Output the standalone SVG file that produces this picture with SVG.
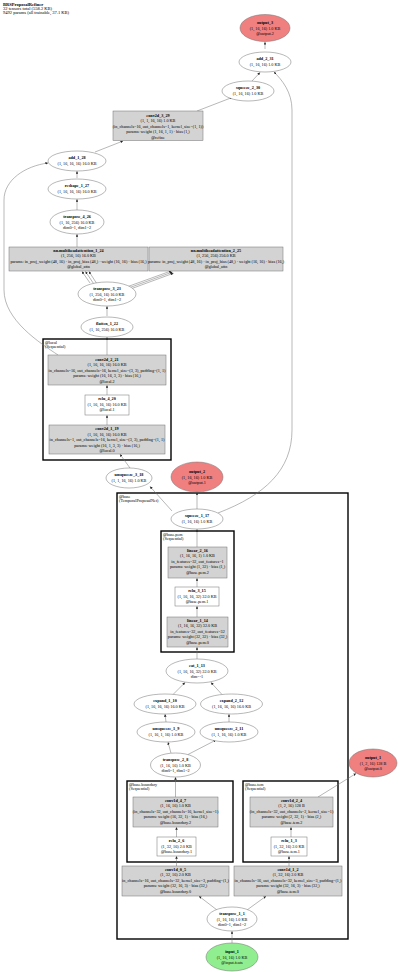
<svg xmlns="http://www.w3.org/2000/svg" width="400" height="972" viewBox="0 0 400 972">
<style>
text{font-family:"Liberation Serif","Times New Roman",serif;font-size:4.2px;text-anchor:middle;fill:#000}
.b{font-weight:bold}
.h{font-size:4.5px;text-anchor:start}
.cl text,.lbl{text-anchor:start;font-size:4.2px}
.box{fill:#d3d3d3;stroke:#707070;stroke-width:0.5}
.wbox{fill:#fff;stroke:#707070;stroke-width:0.5}
.ell{fill:#fff;stroke:#707070;stroke-width:0.5}
.red{fill:#f08080;stroke:#707070;stroke-width:0.5}
.grn{fill:#90ee90;stroke:#707070;stroke-width:0.5}
.clr{fill:none;stroke:#000;stroke-width:1.4}
#edges path{fill:none;stroke:#707070;stroke-width:0.5;marker-end:url(#ah)}
</style>
<defs>
<marker id="ah" viewBox="0 0 10 10" refX="10" refY="5" markerUnits="userSpaceOnUse" markerWidth="2.6" markerHeight="2.6" orient="auto">
<path d="M0,0 L10,5 L0,10 z" fill="#222"/>
</marker>
</defs>
<rect width="400" height="972" fill="#fff"/>
<g id="header">
<text class="h b" x="3" y="5.5">BRSProposalRefiner</text>
<text class="h" x="3" y="9.8">32 tensors total (558.2 KB)</text>
<text class="h" x="3" y="14.1">9492 params (all trainable, 37.1 KB)</text>
</g>

<g id="clusters">
<g id="cl_local" class="cl"><rect class="clr" x="43" y="339" width="128" height="121"/><text x="45" y="343.5">@local</text><text x="45" y="347.5">(Sequential)</text></g>
<g id="cl_base" class="cl"><rect class="clr" x="117" y="493" width="231" height="446"/><text x="119" y="497.5">@base</text><text x="119" y="501.5">(TemporalProposalNet)</text></g>
<g id="cl_pem" class="cl"><rect class="clr" x="161" y="531" width="73" height="121"/><text x="163" y="535.5">@base.pem</text><text x="163" y="539.5">(Sequential)</text></g>
<g id="cl_boundary" class="cl"><rect class="clr" x="127" y="781" width="106" height="81"/><text x="129" y="785.5">@base.boundary</text><text x="129" y="789.5">(Sequential)</text></g>
<g id="cl_tem" class="cl"><rect class="clr" x="243" y="781" width="95" height="81"/><text x="245" y="785.5">@base.tem</text><text x="245" y="789.5">(Sequential)</text></g>
</g>

<g id="edges">
<path d="M265,49 L265,42"/>
<path d="M252,81 L260,72.5"/>
<path d="M197,111 L232,97.5"/>
<path d="M95,152 L123,141"/>
<path d="M77,178 L77,171.2"/>
<path d="M77,210 L77,199.2"/>
<path d="M77,247 L77,234.2"/>
<path d="M90,283 L82,271.5"/>
<path d="M93.5,283.5 L85.5,271.5"/>
<path d="M97,284 L89,271.5"/>
<path d="M128,286.5 L171.5,270.8"/>
<path d="M128.6,288 L172.5,272"/>
<path d="M129.2,289.5 L173.5,273.2"/>
<path d="M107,316 L107,306.2"/>
<path d="M107,355 L107,337.2"/>
<path d="M107,395 L107,385.2"/>
<path d="M107,425 L107,415.2"/>
<path d="M130,468 L120,454.3"/>
<path d="M58,355 C40,343 4,320 4,290 L4,200 C4,180 25,166 48,163"/>
<path d="M172,511 L150,486.5"/>
<path d="M197,509 L197,492.2"/>
<path d="M218,513 C265,495 292,470 292,430 L292,110 C292,92 282,80 274,72"/>
<path d="M197,547 L197,529.2"/>
<path d="M197,587 L197,578.2"/>
<path d="M197,617 L197,606.2"/>
<path d="M197,659 L197,647.2"/>
<path d="M173,694.5 L185,682.5"/>
<path d="M222,694.5 L211,682.5"/>
<path d="M166,722 L165,714.2"/>
<path d="M229,722 L229,714.2"/>
<path d="M171,753.2 L168,742.2"/>
<path d="M188,754.5 L216,740"/>
<path d="M175.5,797 L175.5,777.2"/>
<path d="M176.5,837 L176.5,827.2"/>
<path d="M176.5,866 L176.5,856.2"/>
<path d="M289,866 L289,856.2"/>
<path d="M291,837 L291,827.2"/>
<path d="M318,797 L356,773.5"/>
<path d="M217,910 L199,896.2"/>
<path d="M247,910 L266,896.2"/>
<path d="M232,943 L232,931.2"/>
</g>

<g id="output_3"><ellipse class="red" cx="265" cy="28" rx="25" ry="13.5"/><text class="b" x="265" y="24">output_3</text><text x="265" y="29.6">(1, 16, 16) 1.0 KB</text><text x="265" y="35.2">@output.2</text></g>
<g id="add_2_31"><ellipse class="ell" cx="265" cy="62" rx="26" ry="10"/><text class="b" x="265" y="60">add_2_31</text><text x="265" y="65.6">(1, 16, 16) 1.0 KB</text></g>
<g id="squeeze_2_30"><ellipse class="ell" cx="248" cy="91" rx="26" ry="10"/><text class="b" x="248" y="89">squeeze_2_30</text><text x="248" y="94.6">(1, 16, 16) 1.0 KB</text></g>
<g id="conv2d_3_29"><rect class="box" x="113" y="111" width="90" height="29.5"/><text class="b" x="158" y="116.5">conv2d_3_29</text><text x="158" y="122">(1, 1, 16, 16) 1.0 KB</text><text x="158" y="127.5">(in_channels=16, out_channels=1, kernel_size=(1, 1))</text><text x="158" y="133">params: weight (1, 16, 1, 1) · bias (1,)</text><text x="158" y="138.5">@refine</text></g>
<g id="add_1_28"><ellipse class="ell" cx="77" cy="161" rx="29" ry="10"/><text class="b" x="77" y="159">add_1_28</text><text x="77" y="164.6">(1, 16, 16, 16) 16.0 KB</text></g>
<g id="reshape_1_27"><ellipse class="ell" cx="77" cy="189" rx="29" ry="10"/><text class="b" x="77" y="187">reshape_1_27</text><text x="77" y="192.6">(1, 16, 16, 16) 16.0 KB</text></g>
<g id="transpose_4_26"><ellipse class="ell" cx="77" cy="222" rx="27" ry="12"/><text class="b" x="77" y="218">transpose_4_26</text><text x="77" y="223.6">(1, 16, 256) 16.0 KB</text><text x="77" y="229.2">dim0=1, dim1=2</text></g>
<g id="nn.multiheadattention_1_24"><rect class="box" x="9" y="247" width="139" height="24"/><text class="b" x="78.5" y="251.5">nn.multiheadattention_1_24</text><text x="78.5" y="257">(1, 256, 16) 16.0 KB</text><text x="78.5" y="262.5">params: in_proj_weight (48, 16) · in_proj_bias (48,) · weight (16, 16) · bias (16,)</text><text x="78.5" y="268">@global_attn</text></g>
<g id="nn.multiheadattention_2_25"><rect class="box" x="149" y="247" width="134" height="24"/><text class="b" x="216" y="251.5">nn.multiheadattention_2_25</text><text x="216" y="257">(1, 256, 256) 256.0 KB</text><text x="216" y="262.5">params: in_proj_weight (48, 16) · in_proj_bias (48,) · weight (16, 16) · bias (16,)</text><text x="216" y="268">@global_attn</text></g>
<g id="transpose_3_23"><ellipse class="ell" cx="107" cy="294" rx="29" ry="12"/><text class="b" x="107" y="290">transpose_3_23</text><text x="107" y="295.6">(1, 256, 16) 16.0 KB</text><text x="107" y="301.2">dim0=1, dim1=2</text></g>
<g id="flatten_1_22"><ellipse class="ell" cx="107" cy="327" rx="26" ry="10"/><text class="b" x="107" y="325">flatten_1_22</text><text x="107" y="330.6">(1, 16, 256) 16.0 KB</text></g>
<g id="conv2d_2_21"><rect class="box" x="48" y="355" width="118" height="30"/><text class="b" x="107" y="360.5">conv2d_2_21</text><text x="107" y="366">(1, 16, 16, 16) 16.0 KB</text><text x="107" y="371.5">in_channels=16, out_channels=16, kernel_size=(3, 3), padding=(1, 1)</text><text x="107" y="377">params: weight (16, 16, 3, 3) · bias (16,)</text><text x="107" y="382.5">@local.2</text></g>
<g id="relu_4_20"><rect class="wbox" x="85" y="395" width="44" height="20"/><text class="b" x="107" y="400">relu_4_20</text><text x="107" y="405.5">(1, 16, 16, 16) 16.0 KB</text><text x="107" y="411">@local.1</text></g>
<g id="conv2d_1_19"><rect class="box" x="49" y="425" width="116" height="29"/><text class="b" x="107" y="430">conv2d_1_19</text><text x="107" y="435.5">(1, 16, 16, 16) 16.0 KB</text><text x="107" y="441">in_channels=1, out_channels=16, kernel_size=(3, 3), padding=(1, 1)</text><text x="107" y="446.5">params: weight (16, 1, 3, 3) · bias (16,)</text><text x="107" y="452">@local.0</text></g>
<g id="unsqueeze_3_18"><ellipse class="ell" cx="129" cy="478" rx="23" ry="10"/><text class="b" x="129" y="476">unsqueeze_3_18</text><text x="129" y="481.6">(1, 1, 16, 16) 1.0 KB</text></g>
<g id="output_2"><ellipse class="red" cx="197" cy="477" rx="26" ry="15"/><text class="b" x="197" y="473">output_2</text><text x="197" y="478.6">(1, 16, 16) 1.0 KB</text><text x="197" y="484.2">@output.1</text></g>
<g id="squeeze_1_17"><ellipse class="ell" cx="197" cy="519" rx="26" ry="10"/><text class="b" x="197" y="517">squeeze_1_17</text><text x="197" y="522.6">(1, 16, 16) 1.0 KB</text></g>
<g id="linear_2_16"><rect class="box" x="168" y="547" width="59" height="31"/><text class="b" x="197.5" y="551.8">linear_2_16</text><text x="197.5" y="557.3">(1, 16, 16, 1) 1.0 KB</text><text x="197.5" y="562.8">in_features=32, out_features=1</text><text x="197.5" y="568.3">params: weight (1, 32) · bias (1,)</text><text x="197.5" y="573.8">@base.pem.2</text></g>
<g id="relu_3_15"><rect class="wbox" x="175" y="587" width="44" height="19"/><text class="b" x="197" y="592">relu_3_15</text><text x="197" y="597.5">(1, 16, 16, 32) 32.0 KB</text><text x="197" y="603">@base.pem.1</text></g>
<g id="linear_1_14"><rect class="box" x="167" y="617" width="61" height="30"/><text class="b" x="197.5" y="621.5">linear_1_14</text><text x="197.5" y="627">(1, 16, 16, 32) 32.0 KB</text><text x="197.5" y="632.5">in_features=32, out_features=32</text><text x="197.5" y="638">params: weight (32, 32) · bias (32,)</text><text x="197.5" y="643.5">@base.pem.0</text></g>
<g id="cat_1_13"><ellipse class="ell" cx="197" cy="671" rx="31" ry="12"/><text class="b" x="197" y="667">cat_1_13</text><text x="197" y="672.6">(1, 16, 16, 32) 32.0 KB</text><text x="197" y="678.2">dim=-1</text></g>
<g id="expand_1_10"><ellipse class="ell" cx="165" cy="704" rx="31" ry="10"/><text class="b" x="165" y="702">expand_1_10</text><text x="165" y="707.6">(1, 16, 16, 16) 16.0 KB</text></g>
<g id="expand_2_12"><ellipse class="ell" cx="231.5" cy="704" rx="31" ry="10"/><text class="b" x="231.5" y="702">expand_2_12</text><text x="231.5" y="707.6">(1, 16, 16, 16) 16.0 KB</text></g>
<g id="unsqueeze_1_9"><ellipse class="ell" cx="166" cy="732" rx="29" ry="10"/><text class="b" x="166" y="730">unsqueeze_1_9</text><text x="166" y="735.6">(1, 16, 1, 16) 1.0 KB</text></g>
<g id="unsqueeze_2_11"><ellipse class="ell" cx="229" cy="732" rx="29" ry="10"/><text class="b" x="229" y="730">unsqueeze_2_11</text><text x="229" y="735.6">(1, 1, 16, 16) 1.0 KB</text></g>
<g id="transpose_2_8"><ellipse class="ell" cx="175.5" cy="765" rx="25" ry="12"/><text class="b" x="175.5" y="761">transpose_2_8</text><text x="175.5" y="766.6">(1, 16, 16) 1.0 KB</text><text x="175.5" y="772.2">dim0=1, dim1=2</text></g>
<g id="conv1d_4_7"><rect class="box" x="133" y="797" width="85" height="30"/><text class="b" x="175.5" y="801.5">conv1d_4_7</text><text x="175.5" y="807">(1, 16, 16) 1.0 KB</text><text x="175.5" y="812.5">(in_channels=32, out_channels=16, kernel_size=1)</text><text x="175.5" y="818">params: weight (16, 32, 1) · bias (16,)</text><text x="175.5" y="823.5">@base.boundary.2</text></g>
<g id="relu_2_6"><rect class="wbox" x="157" y="837" width="39" height="19"/><text class="b" x="176.5" y="842">relu_2_6</text><text x="176.5" y="847.5">(1, 32, 16) 2.0 KB</text><text x="176.5" y="853">@base.boundary.1</text></g>
<g id="conv1d_2_4"><rect class="box" x="250" y="797" width="83" height="30"/><text class="b" x="291.5" y="801.5">conv1d_2_4</text><text x="291.5" y="807">(1, 2, 16) 128 B</text><text x="291.5" y="812.5">(in_channels=32, out_channels=2, kernel_size=1)</text><text x="291.5" y="818">params: weight (2, 32, 1) · bias (2,)</text><text x="291.5" y="823.5">@base.tem.2</text></g>
<g id="relu_1_3"><rect class="wbox" x="271" y="837" width="36" height="19"/><text class="b" x="289" y="842">relu_1_3</text><text x="289" y="847.5">(1, 32, 16) 2.0 KB</text><text x="289" y="853">@base.tem.1</text></g>
<g id="output_1"><ellipse class="red" cx="373" cy="763" rx="24" ry="14"/><text class="b" x="373" y="759">output_1</text><text x="373" y="764.6">(1, 2, 16) 128 B</text><text x="373" y="770.2">@output.0</text></g>
<g id="conv1d_0_5"><rect class="box" x="122" y="866" width="107" height="30"/><text class="b" x="175.5" y="870.5">conv1d_0_5</text><text x="175.5" y="876">(1, 32, 16) 2.0 KB</text><text x="175.5" y="881.5">in_channels=16, out_channels=32, kernel_size=3, padding=(1,)</text><text x="175.5" y="887">params: weight (32, 16, 3) · bias (32,)</text><text x="175.5" y="892.5">@base.boundary.0</text></g>
<g id="conv1d_1_2"><rect class="box" x="234" y="866" width="108" height="30"/><text class="b" x="288" y="870.5">conv1d_1_2</text><text x="288" y="876">(1, 32, 16) 2.0 KB</text><text x="288" y="881.5">in_channels=16, out_channels=32, kernel_size=3, padding=(1,)</text><text x="288" y="887">params: weight (32, 16, 3) · bias (32,)</text><text x="288" y="892.5">@base.tem.0</text></g>
<g id="transpose_1_1"><ellipse class="ell" cx="232" cy="919" rx="25" ry="12"/><text class="b" x="232" y="915">transpose_1_1</text><text x="232" y="920.6">(1, 16, 16) 1.0 KB</text><text x="232" y="926.2">dim0=1, dim1=2</text></g>
<g id="input_1"><ellipse class="grn" cx="232" cy="957" rx="26" ry="14"/><text class="b" x="232" y="953">input_1</text><text x="232" y="958.6">(1, 16, 16) 1.0 KB</text><text x="232" y="964.2">@input.feats</text></g>
</svg>
